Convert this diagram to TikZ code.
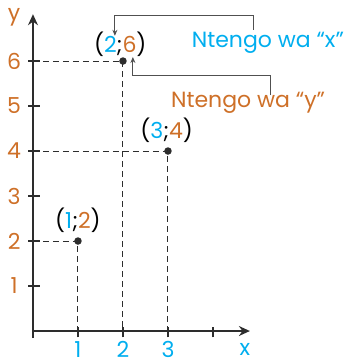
\documentclass[tikz,border=0pt]{standalone}
\usepackage{fontspec}
\setmainfont{Poppins}
\usetikzlibrary{arrows.meta}
\definecolor{xblue}{RGB}{0,174,239}
\definecolor{yorange}{RGB}{206,112,40}
\definecolor{axisgray}{RGB}{45,45,45}
\definecolor{conngray}{RGB}{80,80,80}
\tikzset{
  axisline/.style={line width=1.5pt,draw=axisgray},
  guide/.style={line width=1pt,draw=axisgray,dash pattern=on 6pt off 4pt},
  conn/.style={line width=0.9pt,draw=conngray,-{Stealth[length=6pt,width=5pt]}},
  numtext/.style={font=\fontsize{22}{24}\selectfont,inner sep=0pt},
  dot/.style={circle,fill=axisgray,inner sep=0pt,minimum size=7.5pt}
}
\begin{document}
\begin{tikzpicture}[x=45pt,y=45pt]
  \useasboundingbox (-0.733,-0.644) rectangle (6.911,7.356);
  % axes
  \coordinate (O) at (0,0);
  \coordinate (xtip) at (4.82,0);
  \coordinate (ytip) at (0,7.04);
  \draw[axisline,-{Stealth[length=11pt,width=10pt]}] (0,-0.16)--(ytip);
  \draw[axisline,-{Stealth[length=11pt,width=10pt]}] (O)--(xtip);
  \foreach \i in {1,...,4}
    \draw[axisline] (\i,-0.14)--(\i,0.1);
  \foreach \i in {1,...,3}
    \node[numtext,text=xblue] at (\i,-0.41) {\i};
  \foreach \j in {1,...,6} {
    \draw[axisline] (-0.11,\j)--(0.155,\j);
    \node[numtext,text=yorange] at (-0.42,\j) {\j};
  }
  \node[numtext,text=xblue] at (4.71,-0.42) {x};
  \node[numtext,text=yorange] at (-0.42,6.98) {y};
  % points
  \node[dot] (P12) at (1,2) {};
  \node[dot] (P26) at (2,6) {};
  \node[dot] (P34) at (3,4) {};
  \draw[guide] (0,2)--(P12.center)--(1,0);
  \draw[guide] (0,6)--(P26.center)--(2,0);
  \draw[guide] (0,4)--(P34.center)--(3,0);
  \node[numtext] (L12) at (1,2.47) {(\textcolor{xblue}{1};\textcolor{yorange}{2})};
  \node[numtext] (L26) at (1.94,6.37) {(\textcolor{xblue}{2};\textcolor{yorange}{6})};
  \node[numtext] (L34) at (2.97,4.45) {(\textcolor{xblue}{3};\textcolor{yorange}{4})};
  % labels
  \node[numtext,text=xblue] (ntx) at (5.22,6.4) {Ntengo wa “x”};
  \node[numtext,text=yorange] (nty) at (4.78,5.07) {Ntengo wa “y”};
  \coordinate (xstart) at (4.89,6.69);
  \coordinate (xend) at (1.82,6.56);
  \coordinate (ystart) at (5.27,5.24);
  \coordinate (yend) at (2.22,6.09);
  \draw[conn] (xstart)--(4.89,7.02)-|(xend);
  \draw[conn] (ystart)--(5.27,5.67)-|(yend);
\end{tikzpicture}
\end{document}
